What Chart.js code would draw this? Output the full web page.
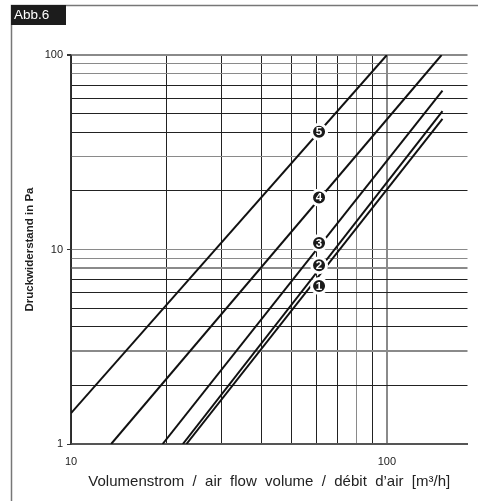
<!DOCTYPE html>
<html>
<head>
<meta charset="utf-8">
<script src="https://cdn.jsdelivr.net/npm/chart.js@4.4.1/dist/chart.umd.min.js"></script>
<style>
  html, body { margin: 0; padding: 0; background: #fff; }
  canvas { display: block; }
</style>
</head>
<body>
<canvas id="myChart" width="478" height="501"></canvas>
<script>
// curve data
const curveNames = ['1', '2', '3', '4', '5'];
const flowStart = [23.2, 22.6, 19.5, 13.4, 10];
const dropStart = [1, 1, 1, 1, 1.44];
const flowEnd = [150, 150, 150, 149, 100];
const dropEnd = [46.9, 51.5, 65.6, 100, 100];

// where the numbered markers sit
const markerFlow = [61, 61, 61, 61, 61];
const markerDrop = [6.5, 8.3, 10.8, 18.5, 40.3];

// grid and tick labels
const xGridValues = [10, 20, 30, 40, 50, 60, 70, 80, 90, 100];
const yGridValues = [1, 2, 3, 4, 5, 6, 7, 8, 9, 10, 20, 30, 40, 50, 60, 70, 80, 90, 100];
const xTickLabels = [10, 100];
const yTickLabels = [1, 10, 100];
const xGrayLines = [80, 100];
const yGrayLines = [3, 8, 9, 10, 30, 80, 90, 100];
const thickLines = [3, 8, 100];

Chart.defaults.font.family = '"Liberation Sans", Arial, Helvetica, sans-serif';
Chart.defaults.color = '#222';

const ctx = document.getElementById('myChart').getContext('2d');

let datasets = curveNames.map((name, i) => ({
    label: 'Kurve ' + name,
    data: [{x: flowStart[i], y: dropStart[i]}, {x: flowEnd[i], y: dropEnd[i]}],
    showLine: true,
    borderColor: '#111',
    borderWidth: 2,
    pointRadius: 0,
    order: 1
}));

datasets.push({
    label: 'markers',
    data: markerFlow.map((x, i) => ({x: x, y: markerDrop[i]})),
    pointRadius: 7.5,
    pointHoverRadius: 7.5,
    pointBackgroundColor: '#1a1a1a',
    pointBorderColor: '#fff',
    pointBorderWidth: 3,
    order: -1
});

// frame + "Abb.6" tag
const framePlugin = {
    id: 'frame',
    beforeDraw(chart) {
        const c = chart.ctx;
        c.save();
        c.strokeStyle = '#777';
        c.lineWidth = 1.5;
        c.beginPath();
        c.moveTo(11.5, 501);
        c.lineTo(11.5, 5.5);
        c.lineTo(478, 5.5);
        c.stroke();
        c.fillStyle = '#1c1c1c';
        c.fillRect(11, 5, 55, 20);
        c.fillStyle = '#fff';
        c.font = '13.5px "Liberation Sans", Arial, sans-serif';
        c.textBaseline = 'middle';
        c.fillText('Abb.6', 14, 15.5);
        c.restore();
    }
};

// numbers inside the markers
const markerText = {
    id: 'markerText',
    afterDatasetsDraw(chart) {
        const meta = chart.getDatasetMeta(curveNames.length);
        const c = chart.ctx;
        c.save();
        c.fillStyle = '#fff';
        c.font = 'bold 11.5px "Liberation Sans", Arial, sans-serif';
        c.textAlign = 'center';
        c.textBaseline = 'middle';
        meta.data.forEach((pt, i) => {
            c.fillText(curveNames[i], pt.x, pt.y + 0.5);
        });
        c.restore();
    }
};

let chart = new Chart(ctx, {
    type: 'scatter',
    data: { datasets: datasets },
    plugins: [framePlugin, markerText],
    options: {
        responsive: false,
        animation: false,
        events: [],
        layout: { padding: { top: 55, right: 9, left: 0, bottom: 0 } },
        plugins: {
            legend: { display: false },
            tooltip: { enabled: false }
        },
        scales: {
            x: {
                type: 'logarithmic',
                min: 10,
                max: 180,
                afterBuildTicks: (scale) => {
                    scale.ticks = xGridValues.map(v => ({value: v}));
                },
                afterFit: (scale) => { scale.height = 57; },
                ticks: {
                    autoSkip: false,
                    maxRotation: 0,
                    padding: 11,
                    font: { size: 11 },
                    color: '#222',
                    callback: (v) => xTickLabels.includes(v) ? String(v) : ''
                },
                grid: {
                    drawTicks: false,
                    color: (c) => xGrayLines.includes(c.tick.value) ? '#8a8a8a' : '#222',
                    lineWidth: (c) => c.tick.value === 100 ? 2 : 1
                },
                border: { color: '#555', width: 2 },
                title: {
                    display: true,
                    text: 'Volumenstrom  /  air  flow  volume  /  débit  d’air  [m³/h]',
                    font: { size: 15 },
                    color: '#222',
                    padding: { top: 0, bottom: 10.5 }
                }
            },
            y: {
                type: 'logarithmic',
                min: 1,
                max: 100,
                afterBuildTicks: (scale) => {
                    scale.ticks = yGridValues.map(v => ({value: v}));
                },
                afterFit: (scale) => { scale.width = 71; },
                ticks: {
                    autoSkip: false,
                    padding: 4,
                    font: { size: 11 },
                    color: '#222',
                    callback: (v) => yTickLabels.includes(v) ? String(v) : ''
                },
                grid: {
                    tickLength: 4,
                    tickColor: (c) => yTickLabels.includes(c.tick.value) ? '#333' : 'rgba(0,0,0,0)',
                    color: (c) => yGrayLines.includes(c.tick.value) ? '#8a8a8a' : '#222',
                    lineWidth: (c) => thickLines.includes(c.tick.value) ? 2 : 1
                },
                border: { color: '#333', width: 1.5 },
                title: {
                    display: true,
                    text: 'Druckwiderstand in Pa',
                    font: { size: 11.5, weight: 'bold' },
                    color: '#222',
                    padding: { top: 22.6, bottom: 0 }
                }
            }
        }
    }
});
</script>
</body>
</html>
